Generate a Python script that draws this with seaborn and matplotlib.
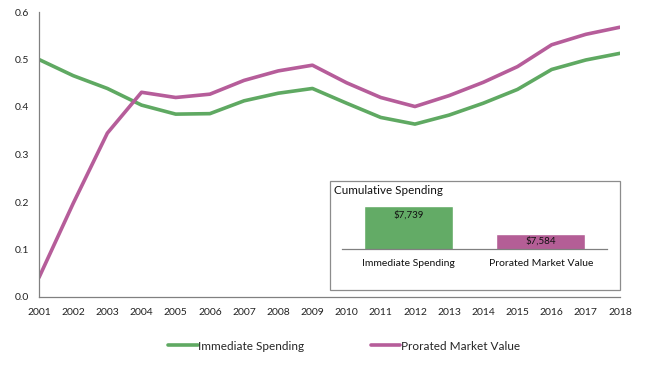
import pandas as pd
import numpy as np
import matplotlib
matplotlib.use("Agg")
import matplotlib.pyplot as plt
import seaborn as sns
from matplotlib.patches import Rectangle
from matplotlib.lines import Line2D

# Data
years = list(range(2001, 2019))
immediate = [0.500, 0.466, 0.439, 0.404, 0.385, 0.386, 0.413, 0.429, 0.439,
             0.408, 0.378, 0.364, 0.383, 0.408, 0.437, 0.479, 0.499, 0.513]
prorated = [0.041, 0.197, 0.345, 0.431, 0.420, 0.427, 0.456, 0.476, 0.488,
            0.451, 0.420, 0.401, 0.424, 0.452, 0.485, 0.531, 0.553, 0.568]
series_names = ["Immediate Spending", "Prorated Market Value"]
cum_values = [7739, 7584]
cum_labels = ["$7,739", "$7,584"]

green = "#5fa962"
purple = "#b65d9a"
bar_green = "#63ab66"
bar_purple = "#b45e96"

sns.set_style("white")
plt.rcParams["font.family"] = ["Lato", "DejaVu Sans"]

df = pd.DataFrame({
    "year": years * 2,
    "value": immediate + prorated,
    "series": [series_names[0]] * len(years) + [series_names[1]] * len(years),
})

W, H = 660, 367
fig = plt.figure(figsize=(6.6, 3.67), dpi=100)

def fx(px):
    return px / W

def fy(py):
    return 1 - py / H

ax = fig.add_axes([fx(39), fy(297), fx(620 - 39), fy(12) - fy(297)])
sns.lineplot(data=df, x="year", y="value", hue="series",
             palette=[green, purple], linewidth=2.6, ax=ax, legend=False)
ax.set_xlim(2001, 2018)
ax.set_ylim(0, 0.6)
ax.set_xticks(years)
ax.set_xticklabels([str(y) for y in years])
ax.set_yticks(np.arange(0, 0.61, 0.1))
ax.set_yticklabels([f"{v:.1f}" for v in np.arange(0, 0.61, 0.1)])
ax.set_xlabel("")
ax.set_ylabel("")
for s in ["top", "right"]:
    ax.spines[s].set_visible(False)
for s in ["left", "bottom"]:
    ax.spines[s].set_color("#808080")
    ax.spines[s].set_linewidth(0.9)
ax.tick_params(axis="both", direction="out", length=4, width=0.8,
               color="#808080", labelsize=7.5, labelcolor="#222222", pad=3)
ax.tick_params(axis="x", pad=4)

# legend
handles = [Line2D([], [], color=green, lw=2.6), Line2D([], [], color=purple, lw=2.6)]
fig.legend(handles, series_names, loc="center", bbox_to_anchor=(fx(344), fy(346)),
           ncol=2, frameon=False, fontsize=8.5, handlelength=2.5, handletextpad=0.05,
           columnspacing=5.6)

# inset box
box = Rectangle((fx(330), fy(290)), fx(620 - 330), fy(181) - fy(290),
                transform=fig.transFigure, fill=True, facecolor="white",
                edgecolor="#8c8c8c", linewidth=0.9, zorder=5)
fig.patches.append(box)
fig.text(fx(334), fy(190), "Cumulative Spending", fontsize=8.4, va="center",
         ha="left", color="#111111", zorder=6)

bx = fig.add_axes([fx(342), fy(249), fx(607 - 342), fy(195) - fy(249)], zorder=6)
bx.patch.set_alpha(0)
bdf = pd.DataFrame({"name": series_names, "value": cum_values})
sns.barplot(data=bdf, x="name", y="value", hue="name", saturation=1,
            palette=[bar_green, bar_purple], width=0.67, ax=bx, legend=False)
bx.set_ylim(7500, 7800)
bx.set_xlim(-0.5, 1.5)
bx.set_xlabel("")
bx.set_ylabel("")
bx.set_yticks([])
for s in ["top", "right", "left"]:
    bx.spines[s].set_visible(False)
bx.spines["bottom"].set_color("#808080")
bx.spines["bottom"].set_linewidth(0.9)
bx.tick_params(axis="x", length=0, labelsize=7.5, pad=7, labelcolor="#111111")
bx.text(0, 7739 - 22, cum_labels[0], ha="center", va="top", fontsize=7, color="#111111")
bx.text(1, (7584 + 7500) / 2, cum_labels[1], ha="center", va="center", fontsize=7,
        color="#111111")

fig.savefig("out.png", dpi=100)
